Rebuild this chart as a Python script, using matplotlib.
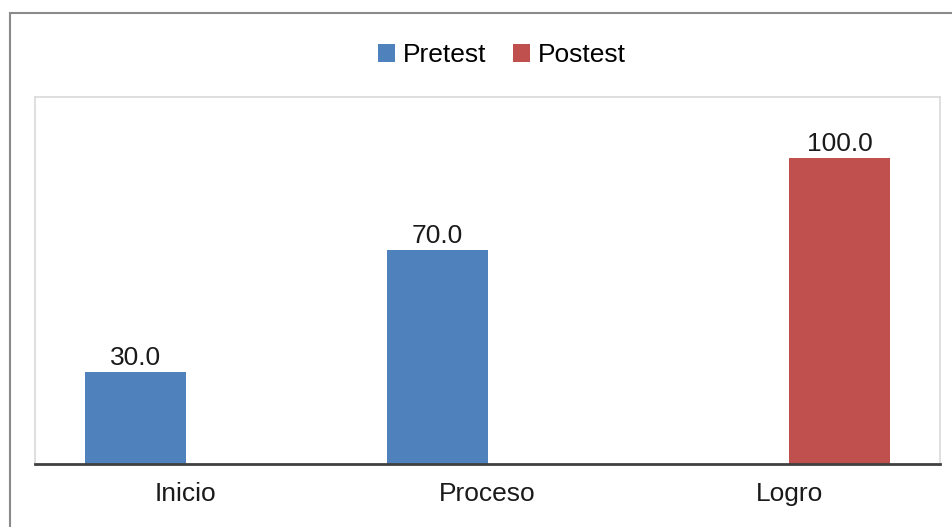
import matplotlib
matplotlib.use("Agg")
import matplotlib.pyplot as plt
from matplotlib.patches import Rectangle
import numpy as np

plt.rcParams['font.family'] = ['Liberation Sans', 'DejaVu Sans']

categories = ["Inicio", "Proceso", "Logro"]
pretest = [30.0, 70.0, None]
postest = [None, None, 100.0]
series_names = ["Pretest", "Postest"]
colors = ["#4F81BD", "#C0504D"]

W, H = 952, 527
fig = plt.figure(figsize=(W / 100, H / 100), dpi=100)

# Outer frame of the chart (runs off the right and bottom edges)
fig.patches.append(Rectangle((10 / W, -0.05), 1.2, (H - 13) / H + 0.05,
                             transform=fig.transFigure, fill=False,
                             edgecolor="#8a8a8a", linewidth=1.5))

left, right, top, bottom = 35, 940, 97, 464
ax = fig.add_axes([left / W, (H - bottom) / H, (right - left) / W, (bottom - top) / H])

x = np.arange(len(categories))
width = 1 / 3
offsets = [-width / 2, width / 2]
fs = 19

for vals, name, color, off in zip([pretest, postest], series_names, colors, offsets):
    xs = [xi + off for xi, v in zip(x, vals) if v is not None]
    ys = [v for v in vals if v is not None]
    bars = ax.bar(xs, ys, width=width, color=color, label=name, zorder=2)
    for b, v in zip(bars, ys):
        ax.text(b.get_x() + b.get_width() / 2, v + 0.6, f"{v:.1f}",
                ha="center", va="bottom", fontsize=fs, color="#1a1a1a")

ax.set_xlim(-0.5, 2.5)
ax.set_ylim(0, 120)
ax.set_yticks([])
ax.set_xticks(x)
ax.set_xticklabels(categories, fontsize=fs, color="#1a1a1a")
ax.tick_params(axis="x", length=0, pad=13)

for side in ["top", "right", "left"]:
    ax.spines[side].set_color("#d9d9d9")
    ax.spines[side].set_linewidth(1.2)
ax.spines["bottom"].set_color("#404040")
ax.spines["bottom"].set_linewidth(2)
ax.spines["bottom"].set_zorder(3)

fig.legend(loc="center", bbox_to_anchor=(502 / W, 1 - 55 / H), ncol=2,
           frameon=False, fontsize=fs, handlelength=0.65, handleheight=0.65,
           handletextpad=0.3, columnspacing=1.0, borderaxespad=0)

fig.savefig("out.png", dpi=100)
